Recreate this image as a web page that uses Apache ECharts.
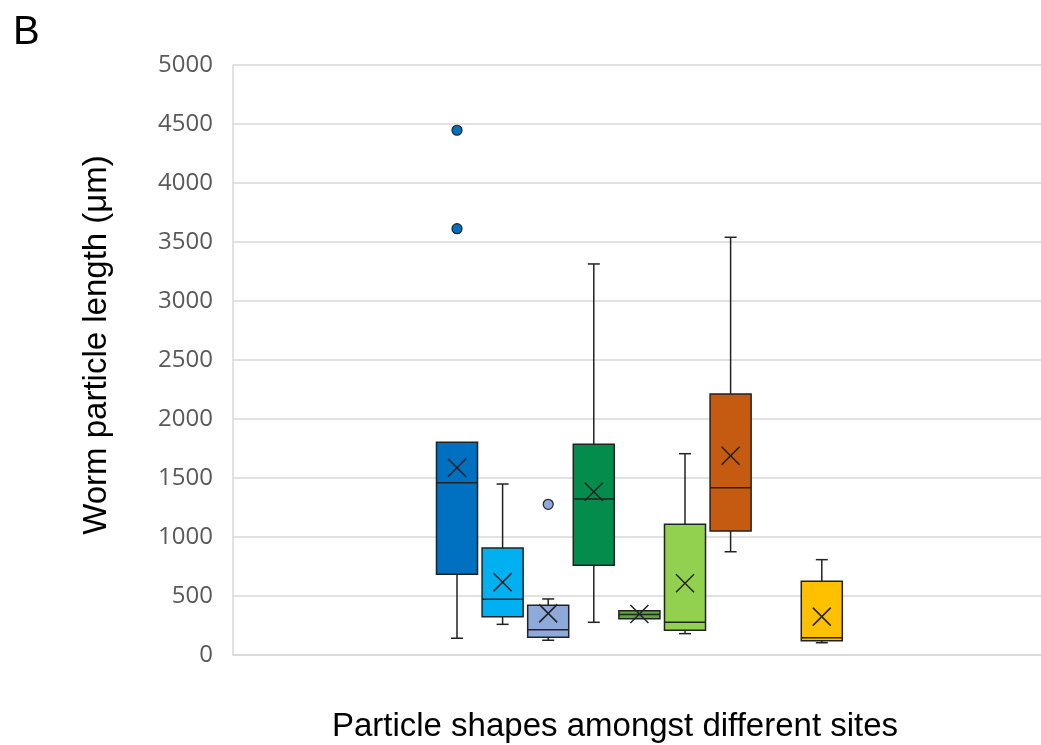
<!DOCTYPE html>
<html>
<head>
<meta charset="utf-8">
<script src="https://cdn.jsdelivr.net/npm/echarts@6/dist/echarts.min.js"></script>
<style>
html,body{margin:0;padding:0;background:#fff;}
#chart{width:1041px;height:745px;}
</style>
</head>
<body>
<div id="chart"></div>
<script>
// ---- data ----
var categories = ['Site shape 1','Site shape 2','Site shape 3','Site shape 4','Site shape 5','Site shape 6','Site shape 7','Site shape 8','Site shape 9'];
var minVals    = [142, 260, 125, 277, 308, 181, 875, null, 104];
var q1Vals     = [684, 325, 150, 760, 308, 209, 1051, null, 121];
var medianVals = [1460, 472, 214, 1322, 343, 277, 1418, null, 147];
var q3Vals     = [1803, 907, 421, 1786, 375, 1108, 2212, null, 625];
var maxVals    = [1803, 1449, 475, 3314, 375, 1706, 3540, null, 808];
var meanVals   = [1587, 616, 353, 1384, 347, 608, 1689, null, 325];
var outlierCats   = [0, 0, 2];
var outlierValues = [4447, 3613, 1277];
var yTicks = [0, 500, 1000, 1500, 2000, 2500, 3000, 3500, 4000, 4500, 5000];

// ---- styles ----
var boxColors = ['#0070c0','#00b0f0','#8eaadb','#038c4c','#62a63a','#92d050','#c55a11','#999999','#ffc000'];
var edge = '#222222';

var boxData = [];
for (var i = 0; i < categories.length; i++) {
  if (minVals[i] == null) continue;
  boxData.push({
    value: [i, minVals[i], q1Vals[i], medianVals[i], q3Vals[i], maxVals[i], meanVals[i]],
    itemStyle: { color: boxColors[i] }
  });
}
var outlierData = outlierCats.map(function (c, k) {
  return { value: [c, outlierValues[k]], itemStyle: { color: boxColors[c] } };
});

function renderBox(params, api) {
  var x = api.value(0);
  var band = api.size([1, 0])[0];
  var w = band * 0.9;
  var cap = 12;
  var pMin = api.coord([x, api.value(1)]);
  var pQ1 = api.coord([x, api.value(2)]);
  var pMd = api.coord([x, api.value(3)]);
  var pQ3 = api.coord([x, api.value(4)]);
  var pMx = api.coord([x, api.value(5)]);
  var pMean = api.coord([x, api.value(6)]);
  var cx = pQ1[0];
  var fill = api.visual('color');
  var ls = { stroke: edge, lineWidth: 1.5 };
  var children = [];
  children.push({ type: 'line', shape: { x1: cx, y1: pQ3[1], x2: cx, y2: pMx[1] }, style: ls });
  children.push({ type: 'line', shape: { x1: cx, y1: pQ1[1], x2: cx, y2: pMin[1] }, style: ls });
  if (Math.abs(pMx[1] - pQ3[1]) > 1) children.push({ type: 'line', shape: { x1: cx - cap/2, y1: pMx[1], x2: cx + cap/2, y2: pMx[1] }, style: ls });
  if (Math.abs(pMin[1] - pQ1[1]) > 1) children.push({ type: 'line', shape: { x1: cx - cap/2, y1: pMin[1], x2: cx + cap/2, y2: pMin[1] }, style: ls });
  children.push({ type: 'rect', shape: { x: cx - w/2, y: pQ3[1], width: w, height: pQ1[1] - pQ3[1] },
    style: { fill: fill, stroke: edge, lineWidth: 1.5 } });
  children.push({ type: 'line', shape: { x1: cx - w/2, y1: pMd[1], x2: cx + w/2, y2: pMd[1] }, style: ls });
  var h = 9;
  children.push({ type: 'line', shape: { x1: cx - h, y1: pMean[1] - h, x2: cx + h, y2: pMean[1] + h }, style: ls });
  children.push({ type: 'line', shape: { x1: cx - h, y1: pMean[1] + h, x2: cx + h, y2: pMean[1] - h }, style: ls });
  return { type: 'group', children: children };
}

var chart = echarts.init(document.getElementById('chart'), null, { renderer: 'canvas' });
chart.setOption({
  backgroundColor: '#ffffff',
  animation: false,
  grid: [
    { left: 233, right: 0, top: 65, bottom: 90, outerBoundsMode: 'none', containLabel: false },
    { left: 434.2, width: 410.4, top: 65, bottom: 90, outerBoundsMode: 'none', containLabel: false }
  ],
  xAxis: [
    { gridIndex: 0, type: 'category', data: [''], axisLabel: { show: false }, axisTick: { show: false },
      axisLine: { show: true, lineStyle: { color: '#d9d9d9', width: 1.5 } } },
    { gridIndex: 1, type: 'category', data: categories, show: false }
  ],
  yAxis: [
    { gridIndex: 0, type: 'value', min: yTicks[0], max: yTicks[yTicks.length - 1], interval: yTicks[1] - yTicks[0],
      axisLine: { show: true, lineStyle: { color: '#d9d9d9', width: 1.5 } },
      axisTick: { show: false },
      splitLine: { show: true, lineStyle: { color: '#d9d9d9', width: 1.5 } },
      axisLabel: { color: '#595959', fontFamily: 'Open Sans', fontSize: 24, margin: 20,
        formatter: function (v) { return String(v); } } },
    { gridIndex: 1, type: 'value', min: yTicks[0], max: yTicks[yTicks.length - 1], show: false }
  ],
  graphic: [
    { type: 'text', left: 13, top: 13, style: { text: 'B', font: '40px "Liberation Sans", Arial, sans-serif', fill: '#000' } },
    { type: 'text', x: 97, y: 345, rotation: Math.PI / 2,
      style: { text: 'Worm particle length (μm)', font: '33px "Liberation Sans", Arial, sans-serif', fill: '#000',
        align: 'center', verticalAlign: 'middle' } },
    { type: 'text', x: 615, y: 727,
      style: { text: 'Particle shapes amongst different sites', font: '33px "Liberation Sans", Arial, sans-serif', fill: '#000',
        align: 'center', verticalAlign: 'middle' } }
  ],
  series: [
    { type: 'custom', xAxisIndex: 1, yAxisIndex: 1, renderItem: renderBox, data: boxData,
      encode: { x: 0, y: [1, 2, 3, 4, 5, 6] }, z: 3 },
    { type: 'scatter', xAxisIndex: 1, yAxisIndex: 1, symbol: 'circle', symbolSize: 10, data: outlierData,
      itemStyle: { borderColor: edge, borderWidth: 1.2, opacity: 1 }, z: 4 }
  ]
});
</script>
</body>
</html>
